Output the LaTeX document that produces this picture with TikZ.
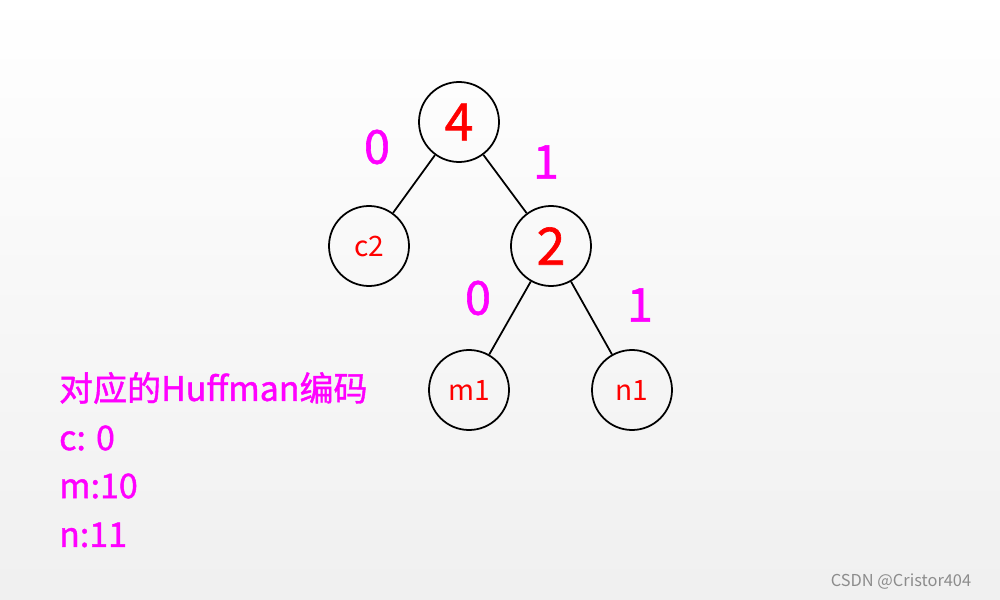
\documentclass[tikz,border=0pt]{standalone}
\usepackage{fontspec}
\setmainfont{Noto Sans CJK SC}
\newfontfamily\medf[FakeBold=1.2]{Noto Sans CJK SC}
\definecolor{mg}{RGB}{255,0,255}
\begin{document}
\begin{tikzpicture}[x=0.03cm,y=-0.03cm,
  nd/.style={circle,draw,line width=1.5pt,minimum size=2.4cm,inner sep=0pt,text=red},
  big/.style={font=\medf\fontsize{44}{48}\selectfont},
  small/.style={font=\fontsize{24}{28}\selectfont},
  lbl/.style={text=mg,font=\medf\fontsize{40}{44}\selectfont},
  code/.style={text=mg,font=\medf\fontsize{29}{34}\selectfont,anchor=west},
  ed/.style={line width=1.5pt}]
\shade[top color=white,bottom color=black!6] (0,0) rectangle (1000,600);
\useasboundingbox (0,0) rectangle (1000,600);
\node[nd,big] (r) at (459,122) {4};
\node[nd,small] (c) at (369,246) {c2};
\node[nd,big] (t) at (551,246) {2};
\node[nd,small] (m) at (469,390) {m1};
\node[nd,small] (n) at (632,390) {n1};
\draw[ed] (r) -- (c);
\draw[ed] (r) -- (t);
\draw[ed] (t) -- (m);
\draw[ed] (t) -- (n);
\node[lbl] (l1) at (377,147) {0};
\node[lbl] (l2) at (546,162) {1};
\node[lbl] (l3) at (478,298) {0};
\node[lbl] (l4) at (640,305) {1};
\node[code] (t1) at (55,388) {对应的Huffman编码};
\node[code] (t2) at (55,438) {c: 0};
\node[code] (t3) at (55,486) {m:10};
\node[code] (t4) at (55,535) {n:11};
\node[text=black!45,font=\fontsize{14}{16}\selectfont] (w) at (901,582) {CSDN @Cristor404};
\end{tikzpicture}
\end{document}
